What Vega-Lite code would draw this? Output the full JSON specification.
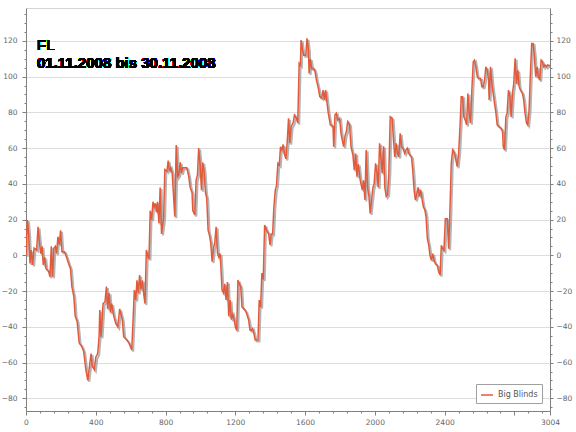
{
  "$schema": "https://vega.github.io/schema/vega-lite/v6.json",
  "width": 524,
  "height": 403,
  "autosize": "none",
  "padding": {"left": 26, "top": 8, "right": 26, "bottom": 21},
  "background": "#ffffff",
  "config": {
    "view": {"stroke": "#d4d4d4"},
    "legend": {
      "orient": "bottom-right",
      "offset": 8,
      "strokeColor": "#a0a0a0",
      "fillColor": "#ffffff",
      "padding": 4,
      "cornerRadius": 0,
      "symbolType": "stroke",
      "symbolSize": 144,
      "symbolStrokeWidth": 1.5,
      "labelFont": "DejaVu Sans",
      "labelFontSize": 8,
      "labelColor": "#555555",
      "title": null
    }
  },
  "data": {
    "values": [
      {"hand": 0, "bb": 0}, {"hand": 8, "bb": 19.8}, {"hand": 15, "bb": 12}, {"hand": 23, "bb": -4.5},
      {"hand": 30, "bb": 3}, {"hand": 38, "bb": -5.4}, {"hand": 46, "bb": 4}, {"hand": 61, "bb": 3},
      {"hand": 69, "bb": 16}, {"hand": 76, "bb": 8.5}, {"hand": 84, "bb": 1}, {"hand": 92, "bb": 5},
      {"hand": 99, "bb": -5.4}, {"hand": 107, "bb": -1}, {"hand": 114, "bb": -7.3}, {"hand": 130, "bb": -9},
      {"hand": 137, "bb": -12}, {"hand": 145, "bb": 5}, {"hand": 152, "bb": -12}, {"hand": 160, "bb": 4},
      {"hand": 168, "bb": 5}, {"hand": 175, "bb": 1}, {"hand": 183, "bb": 10.4}, {"hand": 191, "bb": 6},
      {"hand": 198, "bb": 14}, {"hand": 206, "bb": 2}, {"hand": 221, "bb": 2}, {"hand": 232, "bb": -1},
      {"hand": 244, "bb": -4.6}, {"hand": 255, "bb": -7.5}, {"hand": 263, "bb": -17.5}, {"hand": 274, "bb": -23},
      {"hand": 282, "bb": -34}, {"hand": 293, "bb": -37}, {"hand": 305, "bb": -49}, {"hand": 320, "bb": -51},
      {"hand": 331, "bb": -54}, {"hand": 343, "bb": -64}, {"hand": 354, "bb": -70}, {"hand": 364, "bb": -62},
      {"hand": 373, "bb": -55}, {"hand": 380, "bb": -62}, {"hand": 392, "bb": -64}, {"hand": 400, "bb": -57},
      {"hand": 411, "bb": -55}, {"hand": 419, "bb": -45.5}, {"hand": 423, "bb": -30.6}, {"hand": 430, "bb": -45.5},
      {"hand": 442, "bb": -27}, {"hand": 453, "bb": -26}, {"hand": 461, "bb": -17.5}, {"hand": 468, "bb": -30},
      {"hand": 476, "bb": -21}, {"hand": 484, "bb": -32}, {"hand": 491, "bb": -27}, {"hand": 503, "bb": -34},
      {"hand": 514, "bb": -38}, {"hand": 526, "bb": -40}, {"hand": 537, "bb": -30}, {"hand": 552, "bb": -36},
      {"hand": 560, "bb": -45.5}, {"hand": 575, "bb": -47}, {"hand": 590, "bb": -49}, {"hand": 606, "bb": -53},
      {"hand": 613, "bb": -38}, {"hand": 621, "bb": -19.4}, {"hand": 629, "bb": -25}, {"hand": 636, "bb": -14},
      {"hand": 644, "bb": -21}, {"hand": 651, "bb": -11}, {"hand": 659, "bb": -19}, {"hand": 667, "bb": -14},
      {"hand": 674, "bb": -21}, {"hand": 682, "bb": -27}, {"hand": 690, "bb": 3}, {"hand": 697, "bb": 0},
      {"hand": 705, "bb": -2}, {"hand": 712, "bb": 25}, {"hand": 720, "bb": 20}, {"hand": 728, "bb": 30},
      {"hand": 735, "bb": 27}, {"hand": 743, "bb": 29}, {"hand": 749, "bb": 24}, {"hand": 754, "bb": 30},
      {"hand": 762, "bb": 18}, {"hand": 769, "bb": 38}, {"hand": 777, "bb": 12}, {"hand": 789, "bb": 21},
      {"hand": 796, "bb": 48}, {"hand": 808, "bb": 47}, {"hand": 815, "bb": 53}, {"hand": 823, "bb": 47},
      {"hand": 830, "bb": 49}, {"hand": 838, "bb": 46}, {"hand": 846, "bb": 33}, {"hand": 853, "bb": 21.6},
      {"hand": 861, "bb": 61.7}, {"hand": 869, "bb": 44}, {"hand": 876, "bb": 45}, {"hand": 884, "bb": 52},
      {"hand": 891, "bb": 46}, {"hand": 899, "bb": 49}, {"hand": 910, "bb": 49}, {"hand": 922, "bb": 49},
      {"hand": 933, "bb": 44}, {"hand": 941, "bb": 38}, {"hand": 952, "bb": 35}, {"hand": 956, "bb": 25},
      {"hand": 968, "bb": 22.6}, {"hand": 975, "bb": 42}, {"hand": 983, "bb": 45}, {"hand": 990, "bb": 60},
      {"hand": 998, "bb": 51}, {"hand": 1006, "bb": 36.5}, {"hand": 1013, "bb": 52}, {"hand": 1021, "bb": 47},
      {"hand": 1029, "bb": 35}, {"hand": 1036, "bb": 32}, {"hand": 1044, "bb": 14}, {"hand": 1052, "bb": 11},
      {"hand": 1059, "bb": 7}, {"hand": 1067, "bb": -3.5}, {"hand": 1075, "bb": 4}, {"hand": 1082, "bb": 7},
      {"hand": 1090, "bb": 16}, {"hand": 1098, "bb": 1}, {"hand": 1105, "bb": -1}, {"hand": 1113, "bb": 1},
      {"hand": 1116, "bb": -4.5}, {"hand": 1124, "bb": -19.4}, {"hand": 1132, "bb": -21}, {"hand": 1139, "bb": -16},
      {"hand": 1147, "bb": -25}, {"hand": 1155, "bb": -15}, {"hand": 1162, "bb": -34}, {"hand": 1170, "bb": -25},
      {"hand": 1177, "bb": -36}, {"hand": 1185, "bb": -33}, {"hand": 1193, "bb": -36}, {"hand": 1200, "bb": -40},
      {"hand": 1208, "bb": -42}, {"hand": 1215, "bb": -13.8}, {"hand": 1223, "bb": -16}, {"hand": 1231, "bb": -17.7},
      {"hand": 1238, "bb": -28.8}, {"hand": 1246, "bb": -29.6}, {"hand": 1261, "bb": -31.5}, {"hand": 1269, "bb": -34},
      {"hand": 1276, "bb": -36}, {"hand": 1284, "bb": -41.8}, {"hand": 1292, "bb": -42}, {"hand": 1299, "bb": -41},
      {"hand": 1307, "bb": -44}, {"hand": 1314, "bb": -47.4}, {"hand": 1322, "bb": -47.4}, {"hand": 1330, "bb": -47.4},
      {"hand": 1337, "bb": -25}, {"hand": 1345, "bb": -29}, {"hand": 1352, "bb": -10}, {"hand": 1360, "bb": -13.5},
      {"hand": 1368, "bb": 17}, {"hand": 1379, "bb": 14}, {"hand": 1391, "bb": 12}, {"hand": 1399, "bb": 5.8},
      {"hand": 1406, "bb": 12}, {"hand": 1414, "bb": 12}, {"hand": 1421, "bb": 27}, {"hand": 1429, "bb": 36.5},
      {"hand": 1436, "bb": 39}, {"hand": 1444, "bb": 51.5}, {"hand": 1452, "bb": 50.6}, {"hand": 1459, "bb": 60.8},
      {"hand": 1467, "bb": 59}, {"hand": 1474, "bb": 62}, {"hand": 1482, "bb": 56.5}, {"hand": 1490, "bb": 54},
      {"hand": 1497, "bb": 62.7}, {"hand": 1505, "bb": 76.7}, {"hand": 1512, "bb": 62.7}, {"hand": 1520, "bb": 72},
      {"hand": 1531, "bb": 74}, {"hand": 1539, "bb": 78.5}, {"hand": 1550, "bb": 76.7}, {"hand": 1558, "bb": 74},
      {"hand": 1566, "bb": 107.4}, {"hand": 1573, "bb": 106.5}, {"hand": 1577, "bb": 120.5}, {"hand": 1585, "bb": 115},
      {"hand": 1592, "bb": 112}, {"hand": 1604, "bb": 112}, {"hand": 1611, "bb": 121.4}, {"hand": 1619, "bb": 115},
      {"hand": 1623, "bb": 101.8}, {"hand": 1630, "bb": 110}, {"hand": 1638, "bb": 104.6}, {"hand": 1650, "bb": 104.6},
      {"hand": 1657, "bb": 102.8}, {"hand": 1665, "bb": 98}, {"hand": 1676, "bb": 93.4}, {"hand": 1684, "bb": 88.8},
      {"hand": 1695, "bb": 88}, {"hand": 1703, "bb": 92.5}, {"hand": 1711, "bb": 87}, {"hand": 1718, "bb": 92.5},
      {"hand": 1726, "bb": 85}, {"hand": 1733, "bb": 79.5}, {"hand": 1745, "bb": 73}, {"hand": 1752, "bb": 73},
      {"hand": 1760, "bb": 72}, {"hand": 1764, "bb": 60.8}, {"hand": 1771, "bb": 78.5}, {"hand": 1779, "bb": 79.5},
      {"hand": 1787, "bb": 75.7}, {"hand": 1798, "bb": 76.7}, {"hand": 1806, "bb": 68.3}, {"hand": 1813, "bb": 64.5},
      {"hand": 1821, "bb": 60.8}, {"hand": 1829, "bb": 67}, {"hand": 1836, "bb": 69}, {"hand": 1844, "bb": 74.8},
      {"hand": 1855, "bb": 73}, {"hand": 1863, "bb": 60.8}, {"hand": 1874, "bb": 56.1}, {"hand": 1882, "bb": 47.7},
      {"hand": 1890, "bb": 57}, {"hand": 1897, "bb": 44}, {"hand": 1905, "bb": 51}, {"hand": 1916, "bb": 42},
      {"hand": 1928, "bb": 36.5}, {"hand": 1935, "bb": 42}, {"hand": 1943, "bb": 31}, {"hand": 1950, "bb": 59},
      {"hand": 1958, "bb": 38}, {"hand": 1966, "bb": 33}, {"hand": 1973, "bb": 23.5}, {"hand": 1981, "bb": 31},
      {"hand": 1989, "bb": 38}, {"hand": 1996, "bb": 40}, {"hand": 2004, "bb": 51.5}, {"hand": 2012, "bb": 46},
      {"hand": 2019, "bb": 38}, {"hand": 2027, "bb": 62.7}, {"hand": 2034, "bb": 55}, {"hand": 2042, "bb": 46},
      {"hand": 2050, "bb": 61}, {"hand": 2057, "bb": 38}, {"hand": 2065, "bb": 33}, {"hand": 2073, "bb": 34},
      {"hand": 2080, "bb": 46}, {"hand": 2088, "bb": 77.5}, {"hand": 2099, "bb": 76.7}, {"hand": 2107, "bb": 64.5},
      {"hand": 2114, "bb": 55}, {"hand": 2122, "bb": 62.7}, {"hand": 2130, "bb": 57}, {"hand": 2137, "bb": 55},
      {"hand": 2145, "bb": 68.3}, {"hand": 2153, "bb": 60.8}, {"hand": 2160, "bb": 60}, {"hand": 2171, "bb": 57},
      {"hand": 2179, "bb": 59}, {"hand": 2187, "bb": 60}, {"hand": 2194, "bb": 57}, {"hand": 2210, "bb": 55},
      {"hand": 2217, "bb": 47.7}, {"hand": 2225, "bb": 36.5}, {"hand": 2232, "bb": 31}, {"hand": 2240, "bb": 34},
      {"hand": 2248, "bb": 38}, {"hand": 2255, "bb": 33}, {"hand": 2263, "bb": 36.5}, {"hand": 2271, "bb": 31},
      {"hand": 2278, "bb": 27}, {"hand": 2286, "bb": 25.6}, {"hand": 2293, "bb": 22}, {"hand": 2301, "bb": 9.3},
      {"hand": 2309, "bb": 5.6}, {"hand": 2316, "bb": 0}, {"hand": 2324, "bb": -2.8}, {"hand": 2332, "bb": 1},
      {"hand": 2339, "bb": -2.8}, {"hand": 2347, "bb": -4.7}, {"hand": 2358, "bb": -5.6}, {"hand": 2366, "bb": -9.3},
      {"hand": 2374, "bb": -11}, {"hand": 2381, "bb": 5.6}, {"hand": 2389, "bb": 3.7}, {"hand": 2396, "bb": 2.8},
      {"hand": 2404, "bb": 20.5}, {"hand": 2415, "bb": 20.5}, {"hand": 2423, "bb": 3.7}, {"hand": 2430, "bb": 24},
      {"hand": 2438, "bb": 51.5}, {"hand": 2446, "bb": 59}, {"hand": 2457, "bb": 57}, {"hand": 2465, "bb": 53},
      {"hand": 2472, "bb": 49.6}, {"hand": 2480, "bb": 57}, {"hand": 2488, "bb": 72}, {"hand": 2495, "bb": 88.8},
      {"hand": 2503, "bb": 88.8}, {"hand": 2510, "bb": 77.5}, {"hand": 2518, "bb": 75.7}, {"hand": 2526, "bb": 73},
      {"hand": 2533, "bb": 90.6}, {"hand": 2541, "bb": 79.5}, {"hand": 2548, "bb": 74}, {"hand": 2556, "bb": 92.5},
      {"hand": 2564, "bb": 108.3}, {"hand": 2571, "bb": 109.2}, {"hand": 2579, "bb": 105.5}, {"hand": 2587, "bb": 100},
      {"hand": 2594, "bb": 99}, {"hand": 2606, "bb": 99}, {"hand": 2613, "bb": 94.4}, {"hand": 2621, "bb": 94.4},
      {"hand": 2629, "bb": 98}, {"hand": 2636, "bb": 105.5}, {"hand": 2644, "bb": 103.7}, {"hand": 2652, "bb": 98},
      {"hand": 2655, "bb": 87}, {"hand": 2663, "bb": 105.5}, {"hand": 2671, "bb": 96}, {"hand": 2678, "bb": 90.6},
      {"hand": 2686, "bb": 85}, {"hand": 2694, "bb": 79.5}, {"hand": 2701, "bb": 73}, {"hand": 2713, "bb": 72},
      {"hand": 2724, "bb": 71}, {"hand": 2732, "bb": 69.2}, {"hand": 2736, "bb": 60.8}, {"hand": 2743, "bb": 59},
      {"hand": 2751, "bb": 77.5}, {"hand": 2758, "bb": 79.5}, {"hand": 2766, "bb": 92.5}, {"hand": 2774, "bb": 88.8},
      {"hand": 2781, "bb": 77.5}, {"hand": 2789, "bb": 90.6}, {"hand": 2796, "bb": 96}, {"hand": 2804, "bb": 110.2},
      {"hand": 2812, "bb": 96}, {"hand": 2819, "bb": 103.7}, {"hand": 2827, "bb": 94.4}, {"hand": 2834, "bb": 92.5},
      {"hand": 2846, "bb": 90.6}, {"hand": 2853, "bb": 87}, {"hand": 2861, "bb": 79.5}, {"hand": 2869, "bb": 74},
      {"hand": 2876, "bb": 73}, {"hand": 2884, "bb": 81}, {"hand": 2891, "bb": 100}, {"hand": 2899, "bb": 118.6},
      {"hand": 2907, "bb": 118.6}, {"hand": 2914, "bb": 112}, {"hand": 2922, "bb": 100}, {"hand": 2930, "bb": 105.5},
      {"hand": 2937, "bb": 100}, {"hand": 2945, "bb": 98}, {"hand": 2953, "bb": 109.2}, {"hand": 2960, "bb": 108.3},
      {"hand": 2968, "bb": 105.5}, {"hand": 2975, "bb": 106.5}, {"hand": 2983, "bb": 105.5}, {"hand": 2991, "bb": 106.5},
      {"hand": 3004, "bb": 106}
    ]
  },
  "layer": [
    {
      "mark": {"type": "line", "color": "#9c9c9c", "strokeWidth": 2, "opacity": 0.75, "xOffset": 1.5, "yOffset": 1.5, "clip": true},
      "encoding": {
        "x": {
          "field": "hand", "type": "quantitative",
          "scale": {"domain": [0, 3004], "nice": false, "zero": false},
          "axis": {
            "title": null,
            "values": [0, 80, 160, 240, 320, 400, 480, 560, 640, 720, 800, 880, 960, 1040, 1120, 1200, 1280, 1360, 1440, 1520, 1600, 1680, 1760, 1840, 1920, 2000, 2080, 2160, 2240, 2320, 2400, 2480, 2560, 2640, 2720, 2800, 2880, 2960, 3003.9],
            "tickCount": 100,
            "format": "d",
            "labelExpr": "datum.value > 3000 ? '3004' : (datum.value % 400 === 0 && datum.value < 2800) ? datum.label : ''",
            "labelOverlap": false,
            "labelBound": false,
            "labelFlush": false,
            "tickSize": {"condition": {"test": "datum.value % 400 === 0 || datum.value > 3000", "value": 4}, "value": 2},
            "grid": false,
            "domainColor": "#808080",
            "tickColor": "#808080",
            "labelFont": "DejaVu Sans",
            "labelFontSize": 7.5,
            "labelColor": "#666666",
            "labelPadding": 3
          }
        },
        "y": {
          "field": "bb", "type": "quantitative",
          "scale": {"domain": [-87.1, 138.4], "nice": false, "zero": false},
          "axis": {
            "orient": "right",
            "title": null,
            "values": [-85, -80, -75, -70, -65, -60, -55, -50, -45, -40, -35, -30, -25, -20, -15, -10, -5, 0, 5, 10, 15, 20, 25, 30, 35, 40, 45, 50, 55, 60, 65, 70, 75, 80, 85, 90, 95, 100, 105, 110, 115, 120, 125, 130, 135],
            "tickCount": 100,
            "labelExpr": "datum.value % 20 === 0 ? datum.label : ''",
            "labelOverlap": false,
            "tickSize": {"condition": {"test": "datum.value % 20 === 0", "value": 3}, "value": 2},
            "grid": false,
            "domainColor": "#808080",
            "tickColor": "#808080",
            "labelFont": "DejaVu Sans",
            "labelFontSize": 7.5,
            "labelColor": "#666666",
            "labelPadding": 3
          }
        }
      }
    },
    {
      "mark": {"type": "line", "strokeWidth": 1.5, "clip": true},
      "encoding": {
        "x": {
          "field": "hand", "type": "quantitative",
          "scale": {"domain": [0, 3004], "nice": false, "zero": false},
          "axis": {
            "title": null,
            "values": [0, 80, 160, 240, 320, 400, 480, 560, 640, 720, 800, 880, 960, 1040, 1120, 1200, 1280, 1360, 1440, 1520, 1600, 1680, 1760, 1840, 1920, 2000, 2080, 2160, 2240, 2320, 2400, 2480, 2560, 2640, 2720, 2800, 2880, 2960, 3003.9],
            "tickCount": 100,
            "format": "d",
            "labelExpr": "datum.value > 3000 ? '3004' : (datum.value % 400 === 0 && datum.value < 2800) ? datum.label : ''",
            "labelOverlap": false,
            "labelBound": false,
            "labelFlush": false,
            "tickSize": {"condition": {"test": "datum.value % 400 === 0 || datum.value > 3000", "value": 4}, "value": 2},
            "grid": false,
            "domainColor": "#808080",
            "tickColor": "#808080",
            "labelFont": "DejaVu Sans",
            "labelFontSize": 7.5,
            "labelColor": "#666666",
            "labelPadding": 3
          }
        },
        "y": {
          "field": "bb", "type": "quantitative",
          "scale": {"domain": [-87.1, 138.4], "nice": false, "zero": false},
          "axis": {
            "orient": "left",
            "title": null,
            "values": [-85, -80, -75, -70, -65, -60, -55, -50, -45, -40, -35, -30, -25, -20, -15, -10, -5, 0, 5, 10, 15, 20, 25, 30, 35, 40, 45, 50, 55, 60, 65, 70, 75, 80, 85, 90, 95, 100, 105, 110, 115, 120, 125, 130, 135],
            "tickCount": 100,
            "labelExpr": "datum.value % 20 === 0 ? datum.label : ''",
            "labelOverlap": false,
            "tickSize": {"condition": {"test": "datum.value % 20 === 0", "value": 4}, "value": 2},
            "grid": true,
            "gridColor": "#dddddd",
            "gridOpacity": {"condition": {"test": "datum.value % 20 === 0", "value": 1}, "value": 0},
            "domainColor": "#808080",
            "tickColor": "#808080",
            "labelFont": "DejaVu Sans",
            "labelFontSize": 7.5,
            "labelColor": "#666666",
            "labelPadding": 5
          }
        },
        "color": {"datum": "Big Blinds", "type": "nominal", "scale": {"domain": ["Big Blinds"], "range": ["#e25a3c"]}}
      }
    },
    {
      "mark": {"type": "text", "text": "FL", "font": "Liberation Sans", "fontSize": 15, "align": "left", "baseline": "alphabetic", "fill": "#000000"},
      "encoding": {
        "x": {"datum": 63, "type": "quantitative"},
        "y": {"datum": 114.9, "type": "quantitative", "scale": {"domain": [-87.1, 138.4], "nice": false, "zero": false}, "axis": null}
      }
    },
    {
      "mark": {"type": "text", "text": "01.11.2008 bis 30.11.2008", "font": "Liberation Sans", "fontSize": 15, "fontWeight": "bold", "align": "left", "baseline": "alphabetic", "fill": "#000000"},
      "encoding": {
        "x": {"datum": 63, "type": "quantitative"},
        "y": {"datum": 105, "type": "quantitative", "scale": {"domain": [-87.1, 138.4], "nice": false, "zero": false}, "axis": null}
      }
    }
  ],
  "resolve": {"scale": {"y": "independent"}}
}
